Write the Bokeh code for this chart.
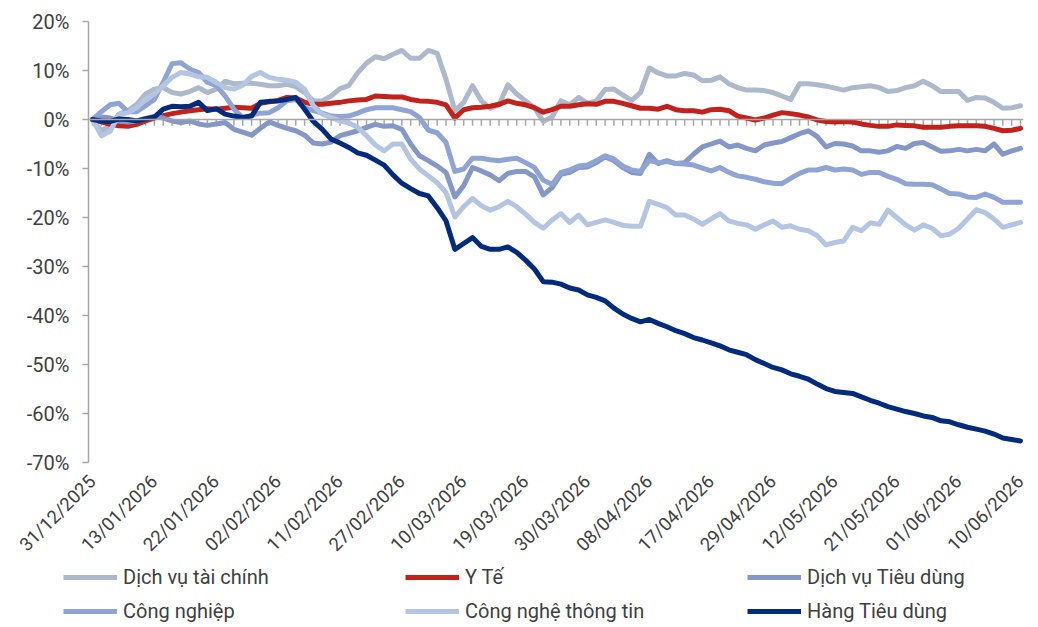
import math
from bokeh.plotting import figure
from bokeh.layouts import column, row
from bokeh.models import Range1d, FixedTicker, PrintfTickFormatter, Span, Legend, LegendItem
from bokeh.embed import file_html
from bokeh.resources import INLINE

# ---------------- data ----------------
tick_labels = ["31/12/2025", "13/01/2026", "22/01/2026", "02/02/2026", "11/02/2026",
               "27/02/2026", "10/03/2026", "19/03/2026", "30/03/2026", "08/04/2026",
               "17/04/2026", "29/04/2026", "12/05/2026", "21/05/2026", "01/06/2026",
               "10/06/2026"]
label_step = 7  # one date label every 7 trading sessions

series_names = ["Dịch vụ tài chính", "Y Tế", "Dịch vụ Tiêu dùng",
                "Công nghiệp", "Công nghệ thông tin", "Hàng Tiêu dùng"]
series_colors = ["#ADB9CA", "#C3211B", "#8497C7", "#8FA4D4", "#B4C5E2", "#022B7C"]

dich_vu_tai_chinh = [
    0, -2.3, -1.3, 1.1, 1.8, 3.1, 5.2, 6.2, 6.5, 5.5, 5.2, 5.7, 6.5, 5.5, 6.2, 7.8, 7.3, 7.4,
    7.4, 7.2, 6.9, 6.9, 7.2, 6.7, 5.5, 3.8, 3.8, 4.8, 6.3, 6.9, 9.5, 11.5, 12.8, 12.4, 13.3,
    14.1, 12.5, 12.5, 14.1, 13.5, 8.2, 1.8, 3.5, 6.9, 3.8, 2.3, 3.0, 7.1, 5.2, 3.8, 2.4, -0.4,
    0.5, 3.8, 3.0, 4.5, 3.3, 3.8, 6.1, 6.2, 5.0, 3.9, 5.5, 10.5, 9.5, 8.9, 8.9, 9.4, 9.1, 7.9,
    8.0, 8.7, 7.3, 6.5, 6.0, 6.0, 5.9, 5.5, 4.8, 4.1, 7.3, 7.3, 7.1, 6.8, 6.4, 6.0, 6.5, 6.7,
    6.9, 6.5, 5.7, 5.9, 6.5, 6.9, 7.8, 6.9, 5.7, 5.7, 5.7, 3.9, 4.5, 4.4, 3.5, 2.3, 2.4, 2.8]

y_te = [
    0, -0.5, -1.0, -1.3, -1.4, -1.0, -0.3, 0.3, 0.8, 1.2, 1.5, 1.8, 2.0, 2.2, 2.1, 2.3, 2.5, 2.4,
    2.3, 3.3, 3.6, 3.9, 4.5, 4.4, 3.5, 3.1, 3.1, 3.3, 3.5, 3.8, 4.0, 4.1, 4.8, 4.7, 4.6,
    4.6, 4.1, 3.8, 3.7, 3.5, 3.0, 0.3, 2.0, 2.4, 2.5, 2.7, 3.1, 3.8, 3.3, 3.0, 2.4, 1.5,
    2.0, 2.7, 2.7, 3.0, 3.2, 3.1, 3.7, 3.7, 3.3, 2.8, 2.3, 2.3, 2.1, 2.7, 2.0, 1.8, 1.8, 1.5,
    2.0, 2.1, 1.8, 0.7, 0.3, -0.1, 0.3, 0.9, 1.4, 1.2, 0.9, 0.5, -0.1, -0.4, -0.5, -0.4, -0.5, -0.9,
    -1.2, -1.4, -1.4, -1.1, -1.2, -1.3, -1.6, -1.6, -1.6, -1.4, -1.3, -1.3, -1.3, -1.4, -1.8, -2.3, -2.2, -1.8]

dich_vu_tieu_dung = [
    0, 0.5, 0.3, -0.3, -0.5, -0.3, 0.2, 0.6, 0.3, -0.3, -0.6, -0.3, -0.9, -1.2, -0.9, -0.6, -2.0, -2.6,
    -3.2, -1.8, -0.5, -1.2, -1.8, -2.3, -3.2, -4.8, -5.0, -4.6, -3.3, -2.8, -2.3, -1.6, -1.0, -1.4, -1.3,
    -2.0, -5.0, -7.4, -8.4, -9.5, -10.8, -15.8, -13.5, -9.8, -10.5, -11.3, -12.5, -11.0, -10.6, -10.6, -11.7, -15.4,
    -13.9, -11.2, -10.8, -9.8, -9.7, -8.8, -7.6, -8.4, -9.8, -10.8, -11.0, -7.1, -9.0, -8.4, -9.0, -8.8, -7.1, -5.6,
    -5.0, -4.4, -5.6, -5.2, -5.9, -6.4, -5.2, -4.8, -4.5, -3.7, -2.9, -2.3, -3.5, -5.6, -4.9, -5.0, -5.4, -6.4,
    -6.4, -6.7, -6.4, -5.5, -5.9, -4.9, -4.7, -5.6, -6.5, -6.4, -6.1, -6.4, -6.1, -6.4, -5.0, -7.1, -6.4, -5.9]

cong_nghiep = [
    0, 1.6, 3.0, 3.3, 1.6, 1.6, 2.8, 4.1, 7.6, 11.4, 11.6, 10.3, 9.6, 7.6, 6.9, 4.8, 2.1, 0.4,
    0.9, 1.3, 1.4, 2.4, 3.8, 4.1, 2.4, 1.8, 1.3, 0.7, 0.6, 0.7, 1.3, 2.0, 2.4, 2.4, 2.4,
    2.0, 1.6, 0.4, -2.2, -2.7, -4.7, -10.6, -10.1, -7.9, -7.9, -8.2, -8.4, -8.1, -7.9, -8.8, -9.8, -12.4,
    -13.2, -10.8, -10.3, -9.5, -9.3, -8.4, -7.4, -8.1, -9.5, -10.3, -10.6, -8.4, -8.8, -8.6, -9.0, -9.1, -9.3, -9.9,
    -10.5, -9.8, -10.8, -11.5, -11.8, -12.2, -12.7, -13.0, -13.1, -12.0, -11.0, -10.3, -10.3, -9.8, -10.3, -10.1, -10.3, -11.2,
    -10.8, -10.8, -11.6, -12.2, -13.1, -13.2, -13.2, -13.3, -14.2, -15.1, -15.2, -15.8, -15.9, -15.2, -15.9, -16.9, -16.9, -16.9]

cong_nghe_thong_tin = [
    0, -3.3, -2.4, 1.0, 1.4, 2.4, 4.1, 5.2, 6.9, 8.6, 9.6, 9.3, 8.7, 8.6, 7.6, 6.5, 6.2, 7.0,
    8.8, 9.6, 8.6, 8.2, 8.0, 7.6, 6.2, 2.8, 1.1, 0.4, -0.3, -0.7, -1.6, -3.3, -5.2, -6.4, -5.0,
    -5.0, -8.1, -10.1, -11.5, -12.9, -14.9, -19.9, -17.8, -16.1, -17.6, -18.5, -17.8, -16.7, -17.8, -19.3, -21.0, -22.2,
    -20.5, -19.2, -21.0, -19.5, -21.5, -21.0, -20.5, -21.0, -21.6, -21.8, -21.8, -16.7, -17.3, -18.0, -19.5, -19.5, -20.3, -21.4,
    -20.3, -19.2, -20.7, -21.2, -21.5, -22.4, -21.5, -20.7, -22.0, -21.7, -22.4, -22.7, -23.7, -25.6, -25.1, -24.8, -22.0, -22.7,
    -21.1, -21.4, -18.5, -20.0, -21.5, -22.6, -21.5, -22.2, -23.7, -23.4, -22.2, -20.3, -18.4, -19.0, -20.3, -22.0, -21.5, -21.0]

hang_tieu_dung = [
    0, -0.3, -0.4, 0.1, 0.0, -0.3, 0.1, 0.5, 2.1, 2.7, 2.6, 2.7, 3.5, 1.8, 2.2, 1.1, 0.7, 0.4,
    0.7, 3.5, 3.7, 3.8, 4.1, 4.5, 2.1, -0.4, -2.0, -4.0, -4.8, -5.7, -6.8, -7.3, -8.3, -9.3, -11.3,
    -13.0, -14.1, -15.1, -15.6, -18.0, -20.7, -26.5, -25.3, -24.1, -25.9, -26.5, -26.5, -26.0, -27.1, -28.7, -30.5, -33.1,
    -33.2, -33.6, -34.4, -34.8, -35.8, -36.3, -37.0, -38.5, -39.7, -40.6, -41.3, -40.8, -41.6, -42.3, -43.1, -43.7, -44.5, -45.0,
    -45.6, -46.2, -47.0, -47.5, -48.0, -49.0, -49.8, -50.6, -51.1, -51.9, -52.4, -53.0, -54.0, -54.9, -55.5, -55.7, -55.9, -56.6,
    -57.3, -57.9, -58.6, -59.1, -59.6, -60.0, -60.5, -60.8, -61.5, -61.7, -62.3, -62.8, -63.2, -63.6, -64.2, -65.0, -65.3, -65.6]

series_values = [dich_vu_tai_chinh, y_te, dich_vu_tieu_dung,
                 cong_nghiep, cong_nghe_thong_tin, hang_tieu_dung]

y_ticks = list(range(-70, 21, 10))

# ---------------- layout constants ----------------
n = len(hang_tieu_dung)
xs = list(range(n))
FONT = "Roboto"
TXT = "#404040"
AX = "#A6A6A6"
W = 1036
FRAME_L, FRAME_R = 88, 1023
X_FIRST, X_LAST = 92, 1020
px_per = (X_LAST - X_FIRST) / (n - 1)
x_start = xs[0] - (X_FIRST - FRAME_L) / px_per
x_end = xs[-1] + (FRAME_R - X_LAST) / px_per

p = figure(width=W, height=566, output_backend="svg", toolbar_location=None,
           x_range=Range1d(x_start, x_end), y_range=Range1d(y_ticks[0], y_ticks[-1]),
           min_border_left=FRAME_L, min_border_right=W - FRAME_R,
           min_border_top=21, min_border_bottom=104)
p.outline_line_color = None
p.xgrid.visible = False
p.ygrid.visible = False

# y axis
p.yaxis.ticker = FixedTicker(ticks=y_ticks)
p.yaxis.formatter = PrintfTickFormatter(format="%d%%")
p.yaxis.axis_line_color = AX
p.yaxis.axis_line_width = 1.5
p.yaxis.major_tick_line_color = AX
p.yaxis.major_tick_line_width = 1.5
p.yaxis.major_tick_out = 6
p.yaxis.major_tick_in = 0
p.yaxis.minor_tick_line_color = None
p.yaxis.major_label_text_font = FONT
p.yaxis.major_label_text_font_size = "20px"
p.yaxis.major_label_text_color = TXT
p.yaxis.major_label_standoff = 13

# x axis (labels only; the category axis line is drawn at 0%)
x_ticks = [i * label_step for i in range(len(tick_labels))]
p.xaxis.ticker = FixedTicker(ticks=x_ticks)
p.xaxis.major_label_overrides = {t: lab for t, lab in zip(x_ticks, tick_labels)}
p.xaxis.major_label_orientation = math.pi / 4
p.xaxis.axis_line_color = None
p.xaxis.major_tick_line_color = None
p.xaxis.major_tick_out = 0
p.xaxis.minor_tick_line_color = None
p.xaxis.major_label_text_font = FONT
p.xaxis.major_label_text_font_size = "18.5px"
p.xaxis.major_label_text_color = TXT
p.xaxis.major_label_standoff = 16

# zero line with category tick marks
p.add_layout(Span(location=0, dimension="width", line_color=AX, line_width=1.5))
p.segment(x0=xs, y0=[0] * n, x1=xs, y1=[-1.3] * n, line_color=AX, line_width=1.5)

for name, vals, col in zip(series_names, series_values, series_colors):
    p.line(xs, vals, line_color=col, line_width=5, line_join="round", line_cap="round")

# ---------------- legend strip (same series, plotted out of view) ----------------
LEG_L = 63
leg = figure(width=W, height=60, output_backend="svg", toolbar_location=None,
             x_axis_location=None, y_axis_location=None,
             x_range=Range1d(1000, 1001), y_range=Range1d(1000, 1001),
             min_border=0, min_border_left=LEG_L, min_border_right=0,
             min_border_top=0, min_border_bottom=0)
leg.grid.visible = False
leg.outline_line_color = None

items = []
for name, vals, col in zip(series_names, series_values, series_colors):
    r = leg.line(xs, vals, line_color=col, line_width=5)
    items.append(LegendItem(label=name, renderers=[r]))

legend = Legend(items=items, ncols=3, orientation="horizontal", location=(0, 0))
legend.label_text_font = FONT
legend.label_text_font_size = "20px"
legend.label_text_color = TXT
legend.glyph_width = 54
legend.glyph_height = 20
legend.label_width = 278
legend.label_height = 30
legend.label_standoff = 6
legend.spacing = 4
legend.padding = 0
legend.margin = 0
legend.border_line_color = None
legend.background_fill_alpha = 0
leg.add_layout(legend)

open("out.html", "w").write(file_html(column(p, row(leg, spacing=0), spacing=0), INLINE))
